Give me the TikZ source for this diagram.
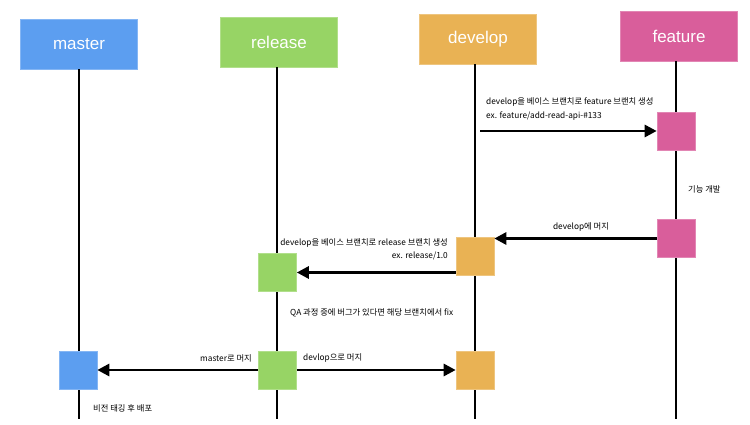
\documentclass[tikz,border=0pt]{standalone}
\usepackage{fontspec}
\setmainfont{Liberation Sans}
\newfontfamily\kr{Noto Sans CJK KR}
\usetikzlibrary{arrows.meta}
\definecolor{cmaster}{RGB}{92,158,240}
\definecolor{crelease}{RGB}{151,212,101}
\definecolor{cdevelop}{RGB}{233,178,84}
\definecolor{cfeature}{RGB}{217,94,155}

\begin{document}
\begin{tikzpicture}[x=1pt, y=-1pt, every node/.style={font=\kr\fontsize{8.3}{10}\selectfont, inner sep=0pt}]
\tikzset{head/.style={minimum width=117pt, minimum height=50pt, text=white, line width=0.8pt, font=\fontsize{17}{19}\selectfont},
  commit/.style={minimum size=38pt, line width=0.6pt},
  life/.style={line width=2.5pt},
  flow/.style={line width=2.8pt, -{Triangle[length=12pt,width=12pt]}}}
\useasboundingbox (0,0) rectangle (750,425);
\node[head,fill=cmaster,draw=cmaster!75!white] (master) at (79,44) {master};
\node[head,fill=crelease,draw=crelease!75!white] (release) at (279,42) {release};
\node[head,fill=cdevelop,draw=cdevelop!75!white] (develop) at (478,39) {develop};
\node[head,fill=cfeature,draw=cfeature!75!white] (feature) at (679,36) {feature};
\coordinate (mend) at (79,419);
\coordinate (rend) at (277,419);
\coordinate (dend) at (475,419);
\coordinate (fend) at (676,419);
\draw[life] (master.south -| mend) -- (mend); \draw[life] (release.south -| rend) -- (rend); \draw[life] (develop.south -| dend) -- (dend); \draw[life] (feature.south -| fend) -- (fend);
% commits
\node[commit,fill=cfeature,draw=cfeature!75!white] (f1) at (676,131) {};
\node[commit,fill=cfeature,draw=cfeature!75!white] (f2) at (676,238.5) {};
\node[commit,fill=cdevelop,draw=cdevelop!75!white] (d1) at (475,256) {};
\node[commit,fill=crelease,draw=crelease!75!white] (r1) at (277.5,272.5) {};
\node[commit,fill=cmaster,draw=cmaster!75!white] (m1) at (78,370) {};
\node[commit,fill=crelease,draw=crelease!75!white] (r2) at (277.5,370) {};
\node[commit,fill=cdevelop,draw=cdevelop!75!white] (d2) at (475,370) {};
% merges
\coordinate (dstart) at (480,131);
\draw[flow] (dstart) -- (f1); \draw[flow] (f2) -- (f2 -| d1.east); \draw[flow] (d1.west |- r1) -- (r1); \draw[flow] (r2) -- (m1); \draw[flow] (r2) -- (d2);
% labels
\node[anchor=west] (t1) at (486,102) {develop을 베이스 브랜치로 feature 브랜치 생성};
\node[anchor=west] (t2) at (486,116) {ex. feature/add-read-api-\#133};
\node[anchor=west] (t3) at (688,189) {기능 개발};
\node (t4) at (581,227) {develop에 머지};
\node[anchor=east] (t5) at (448,243) {develop을 베이스 브랜치로 release 브랜치 생성};
\node[anchor=east] (t6) at (448,256) {ex. release/1.0};
\node[anchor=west] (t7) at (290,313) {QA 과정 중에 버그가 있다면 해당 브랜치에서 fix};
\node[anchor=east] (t8) at (252,358) {master로 머지};
\node[anchor=west] (t9) at (303,358) {devlop으로 머지};
\node[anchor=west] (t10) at (93,408) {비전 태깅 후 배포};
\end{tikzpicture}
\end{document}
